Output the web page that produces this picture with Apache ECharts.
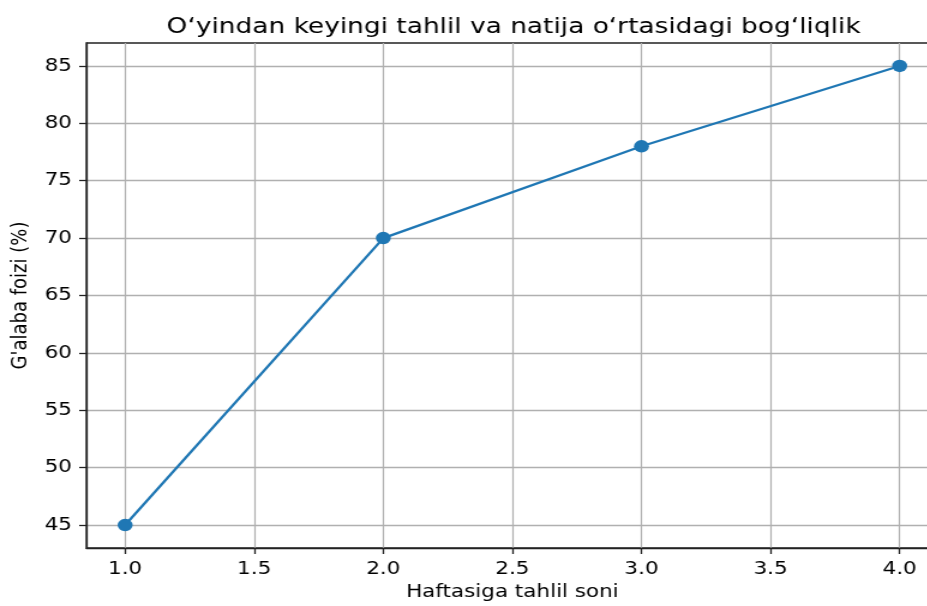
<!DOCTYPE html>
<html><head><meta charset="utf-8">
<script src="https://cdn.jsdelivr.net/npm/echarts@6/dist/echarts.min.js"></script>
<style>
html,body{margin:0;padding:0;background:#fff;overflow:hidden}
#wrap{width:927px;height:606px;overflow:hidden;position:relative}
#c{width:782px;height:606px;transform:scaleX(1.2);transform-origin:0 0}
</style>
</head><body><div id="wrap"><div id="c"></div></div>
<script>
const xValues = [1, 2, 3, 4];
const winRates = [45, 70, 78, 85];
const xTicks = [1.0, 1.5, 2.0, 2.5, 3.0, 3.5, 4.0];
const yTicks = [45, 50, 55, 60, 65, 70, 75, 80, 85];
const titleText = 'O‘yindan keyingi tahlil va natija o‘rtasidagi bog‘liqlik';
const xName = 'Haftasiga tahlil soni';
const yName = "G'alaba foizi (%)";

const chart = echarts.init(document.getElementById('c'), null, {renderer: 'canvas'});
const font = 'DejaVu Sans';
chart.setOption({
  animation: false,
  backgroundColor: '#fff',
  title: {
    text: titleText, left: 423, top: 11, textAlign: 'center',
    textStyle: {fontFamily: font, fontSize: 22, fontWeight: 'normal', color: '#000'}
  },
  grid: {left: 72, top: 43, right: 0, bottom: 58, show: true, borderColor: '#222', borderWidth: 1.3, backgroundColor: 'transparent'},
  xAxis: {
    type: 'value', min: 0.85, max: 4.15, interval: 0.5,
    name: xName, nameLocation: 'middle', nameGap: 35,
    nameTextStyle: {fontFamily: font, fontSize: 17.9, color: '#000'},
    axisLine: {show: true, lineStyle: {color: '#222', width: 1.3}},
    axisTick: {show: true, length: 6, customValues: xTicks, lineStyle: {color: '#222', width: 1.3}},
    axisLabel: {customValues: xTicks, fontFamily: font, fontSize: 17.9, color: '#000', margin: 12,
      formatter: v => v.toFixed(1)},
    splitLine: {show: true, lineStyle: {color: '#b0b0b0', width: 1.2}}
  },
  yAxis: {
    type: 'value', min: 43, max: 87, interval: 5,
    name: yName, nameLocation: 'middle', nameGap: 33, nameRotate: 90,
    nameTextStyle: {fontFamily: font, fontSize: 18, color: '#000'},
    axisLine: {show: true, lineStyle: {color: '#222', width: 1.3}},
    axisTick: {show: true, length: 6, customValues: yTicks, lineStyle: {color: '#222', width: 1.3}},
    axisLabel: {customValues: yTicks, fontFamily: font, fontSize: 17.9, color: '#000', margin: 12},
    splitLine: {show: true, lineStyle: {color: '#b0b0b0', width: 1.3}}
  },
  series: [{
    type: 'line',
    data: xValues.map((x, i) => [x, winRates[i]]),
    symbol: 'circle', symbolSize: 12.5,
    lineStyle: {color: '#1f77b4', width: 2.3},
    itemStyle: {color: '#1f77b4'},
    clip: false
  }]
});
</script></body></html>
